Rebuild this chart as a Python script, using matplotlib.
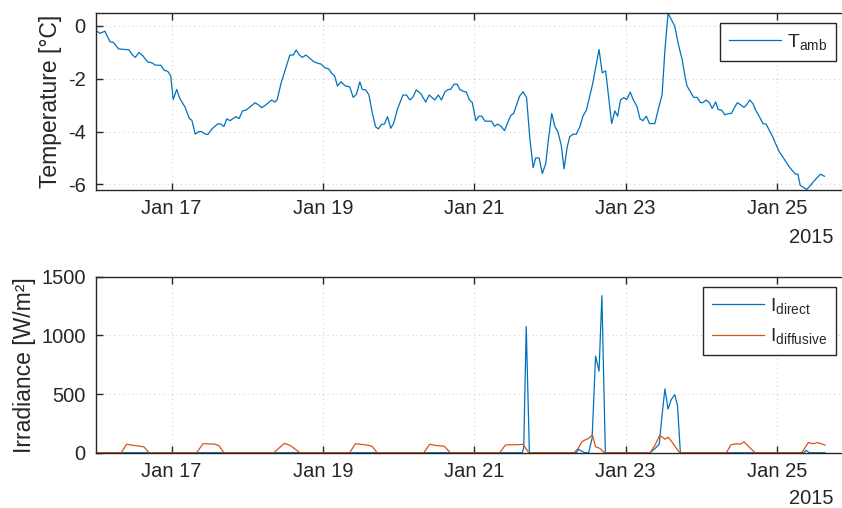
import matplotlib
matplotlib.use("Agg")
import matplotlib.pyplot as plt
import matplotlib.dates as mdates
from datetime import datetime, timedelta

# ---------------- data (hours since 2015-01-16 00:00) ----------------
temp_hours = [0, 1.3, 2.8, 4.45, 5.5, 7.2, 10.4, 11.6, 12.5, 13.6, 14.8, 16.4, 17.8, 18.8,
              20.6, 21.6, 22.8, 23.7, 24.5, 25.6, 26.6, 28.3, 29.6, 30.4, 31.5, 32.6, 33.6,
              34.7, 35.5, 36.8, 38.6, 39.6, 40.6, 41.5, 42.5, 44.4, 45.4, 46.5, 47.6, 50.5,
              51.6, 52.6, 53.9, 55.7, 56.8, 57.5, 58.7, 60.0, 61.5, 62.6, 63.5, 64.5, 65.5,
              66.6, 67.9, 69.2, 70.6, 71.4, 72.7, 73.8, 74.8, 75.7, 76.6, 77.7, 79.1, 80.5,
              81.6, 82.6, 83.7, 84.5, 85.6, 86.6, 87.7, 88.7, 89.6, 90.6, 91.5, 92.5, 93.5,
              94.4, 95.7, 97.4, 98.5, 99.6, 100.6, 101.6, 103.0, 104.6, 105.7, 107.5, 108.6,
              109.6, 110.7, 111.8, 112.5, 113.6, 114.6, 115.4, 116.5, 117.5, 118.4, 119.4,
              120.5, 121.5, 122.4, 123.4, 125.5, 126.4, 127.4, 128.5, 129.6, 130.6, 131.6,
              132.5, 133.6, 134.4, 135.5, 136.6, 137.6, 138.7, 139.5, 140.6, 141.6, 142.7,
              143.5, 144.6, 145.6, 146.5, 147.6, 148.5, 149.5, 150.3, 151.4, 152.4, 153.5,
              154.5, 155.6, 157.5, 159.6, 160.6, 161.7, 163.6, 164.6, 165.5, 166.4, 167.4,
              168.4, 169.5, 170.5, 171.6, 172.6, 173.5, 174.6, 175.6, 177.3, 178.6, 179.6,
              180.5, 181.5, 182.6, 183.6, 184.7, 186.0, 186.8, 187.5, 188.6, 189.6, 190.7,
              191.8, 192.5, 193.6, 194.6, 195.5, 196.6, 197.4, 198.5, 199.5, 200.8, 201.6,
              202.4, 203.5, 204.6, 205.6, 206.6, 207.4, 208.4, 209.4, 210.5, 211.6, 212.6,
              213.7, 214.7, 215.8, 216.8, 217.9, 218.7, 219.8, 220.8, 221.9, 222.7, 223.4,
              224.2, 225.5, 226.5, 227.6, 228.8, 229.9, 231.1]
temp_values = [-0.19, -0.29, -0.21, -0.61, -0.63, -0.88, -0.91, -1.11, -1.20, -1.01, -1.13,
               -1.37, -1.41, -1.49, -1.50, -1.68, -1.73, -1.90, -2.79, -2.41, -2.75, -3.09,
               -3.51, -3.57, -4.10, -4.00, -4.01, -4.10, -4.11, -3.90, -3.71, -3.72, -3.81,
               -3.52, -3.59, -3.44, -3.51, -3.22, -3.19, -2.91, -3.00, -3.10, -2.99, -2.81,
               -2.89, -2.79, -2.18, -1.68, -1.11, -1.11, -0.92, -1.11, -1.20, -1.11, -1.24,
               -1.37, -1.43, -1.45, -1.60, -1.63, -1.80, -1.90, -2.28, -2.12, -2.28, -2.31,
               -2.71, -2.60, -2.12, -2.41, -2.43, -2.62, -3.32, -3.82, -3.90, -3.73, -3.72,
               -3.44, -3.88, -3.70, -3.13, -2.62, -2.62, -2.81, -2.69, -2.43, -2.56, -2.89,
               -2.62, -2.81, -2.62, -2.81, -2.50, -2.41, -2.41, -2.21, -2.21, -2.41, -2.48,
               -2.51, -2.79, -2.91, -3.59, -3.42, -3.42, -3.61, -3.61, -3.80, -3.72, -3.80,
               -3.97, -3.67, -3.39, -3.32, -2.94, -2.66, -2.50, -2.71, -4.20, -5.37, -5.00,
               -5.00, -5.59, -5.21, -4.33, -3.32, -3.82, -4.00, -4.51, -5.41, -4.58, -4.20,
               -4.10, -4.10, -3.82, -3.42, -3.19, -2.24, -0.90, -1.78, -1.71, -3.70, -3.22,
               -3.42, -2.81, -2.72, -2.79, -2.51, -2.81, -3.04, -3.52, -3.59, -3.42, -3.70,
               -3.70, -3.06, -2.62, -0.92, 0.47, 0.21, -0.01, -0.67, -1.30, -1.87, -2.28,
               -2.50, -2.71, -2.71, -2.91, -2.91, -2.81, -2.91, -3.13, -2.88, -3.17, -3.19,
               -3.37, -3.32, -3.32, -3.13, -2.91, -3.00, -3.09, -2.96, -2.81, -2.94, -3.22,
               -3.44, -3.70, -3.72, -3.97, -4.20, -4.51, -4.77, -4.96, -5.11, -5.31, -5.46,
               -5.61, -5.61, -6.03, -6.09, -6.19, -6.06, -5.90, -5.74, -5.61, -5.69]

direct_hours = [0, 135.2, 135.7, 136.5, 137.5, 152.4, 153.1, 154.2, 155.2, 156.3, 157.4,
                158.5, 159.6, 160.5, 161.6, 175.8, 177.4, 178.7, 179.6, 180.5, 181.5, 182.5,
                183.6, 184.5, 185.4, 224.5, 225.3, 226.3, 231.3]
direct_values = [0, 0, 40, 1075, 0, 0, 29, 12, 0, 0, 123, 823, 695, 1338, 0, 0, 37, 72, 323,
                 544, 372, 452, 495, 403, 0, 0, 20, 0, 0]

diffuse_hours = [0, 8.0, 9.7, 12.0, 15.2, 16.8, 31.9, 34.0, 37.6, 39.0, 40.6, 56.4, 59.8,
                 61.7, 64.7, 80.5, 82.3, 86.0, 87.6, 89.2, 104.0, 105.9, 108.2, 110.5, 112.4,
                 128.1, 129.9, 131.5, 133.6, 135.5, 137.3, 151.8, 153.1, 154.2, 155.2, 156.3,
                 157.5, 158.5, 159.8, 161.3, 175.8, 177.4, 178.8, 179.6, 180.5, 181.5, 182.8,
                 184.0, 185.2, 200.0, 201.4, 203.3, 204.4, 205.6, 206.7, 209.1, 223.9, 226.0,
                 227.6, 228.9, 230.0, 231.3]
diffuse_values = [0, 0, 72, 62, 50, 0, 0, 77, 73, 60, 0, 0, 80, 60, 0, 0, 77, 65, 55, 0, 0,
                  72, 60, 55, 0, 0, 65, 68, 68, 72, 0, 0, 43, 94, 109, 123, 152, 51, 37, 0, 0,
                  66, 146, 135, 115, 132, 89, 43, 0, 0, 66, 77, 72, 92, 62, 0, 0, 86, 77, 86,
                  77, 65]

tick_days = [17, 19, 21, 23, 25]
year_label = "2015"

# ---------------- style ----------------
plt.rcParams['font.family'] = ['Liberation Sans', 'DejaVu Sans']
plt.rcParams['axes.unicode_minus'] = False
plt.rcParams['mathtext.fontset'] = 'custom'
plt.rcParams['mathtext.rm'] = 'Liberation Sans'
TXT = '#262626'
BLUE = '#0072BD'
ORANGE = '#D95319'
FS = 14.5
LFS = 14

base = datetime(2015, 1, 16)
def to_dates(hours):
    return [base + timedelta(hours=h) for h in hours]

W, H = 842, 508
fig = plt.figure(figsize=(W / 100, H / 100), dpi=100)

def px_axes(left, top, right, bottom):
    return fig.add_axes([left / W, 1 - bottom / H, (right - left) / W, (bottom - top) / H])

ax1 = px_axes(96, 12.7, 843, 190)
ax2 = px_axes(96, 276.7, 843, 452.7)

xlim = (mdates.date2num(base), mdates.date2num(base + timedelta(hours=237.0)))

for ax in (ax1, ax2):
    ax.set_xlim(xlim)
    ax.xaxis.set_major_locator(mdates.DayLocator(bymonthday=tick_days))
    ax.xaxis.set_major_formatter(mdates.DateFormatter('%b %d'))
    ax.grid(True, linestyle=(0, (1, 3)), color=TXT, alpha=0.2, linewidth=0.8)
    ax.tick_params(direction='in', length=5, width=1.0, colors=TXT, labelsize=FS,
                   top=True, right=False, pad=6.5, labelcolor=TXT)
    ax.tick_params(axis='y', pad=7.5)
    for s in ('left', 'bottom', 'top'):
        ax.spines[s].set_color(TXT)
        ax.spines[s].set_linewidth(1.0)
    ax.spines['right'].set_visible(False)
    ax.set_axisbelow(True)

ax1.plot(to_dates(temp_hours), temp_values, color=BLUE, lw=0.9,
         label=r'$\mathregular{T_{amb}}$')
ax1.set_ylim(-6.21, 0.49)
ax1.set_yticks([-6, -4, -2, 0])
ax1.set_ylabel('Temperature [°C]', fontsize=16.5, color=TXT, labelpad=4)

ax2.plot(to_dates(direct_hours), direct_values, color=BLUE, lw=0.9,
         label=r'$\mathregular{I_{direct}}$')
ax2.plot(to_dates(diffuse_hours), diffuse_values, color=ORANGE, lw=0.9,
         label=r'$\mathregular{I_{diffusive}}$')
ax2.set_ylim(0, 1500)
ax2.set_yticks([0, 500, 1000, 1500])
ax2.set_ylabel('Irradiance [W/m²]', fontsize=16.5, color=TXT, labelpad=4)

for ax, anchor_top in ((ax1, 23), (ax2, 287)):
    leg = ax.legend(loc='upper right', bbox_to_anchor=(836 / W, 1 - anchor_top / H),
                    bbox_transform=fig.transFigure, borderaxespad=0, fancybox=False,
                    framealpha=1, edgecolor=TXT, fontsize=LFS, handlelength=2.7,
                    handletextpad=0.3, borderpad=0.45, labelspacing=0.55)
    leg.get_frame().set_linewidth(1.0)
    for t in leg.get_texts():
        t.set_color(TXT)

fig.text(834 / W, 1 - 237 / H, year_label, ha='right', va='center', fontsize=FS, color=TXT)
fig.text(834 / W, 1 - 499 / H, year_label, ha='right', va='center', fontsize=FS, color=TXT)

fig.savefig('out.png', dpi=100)
